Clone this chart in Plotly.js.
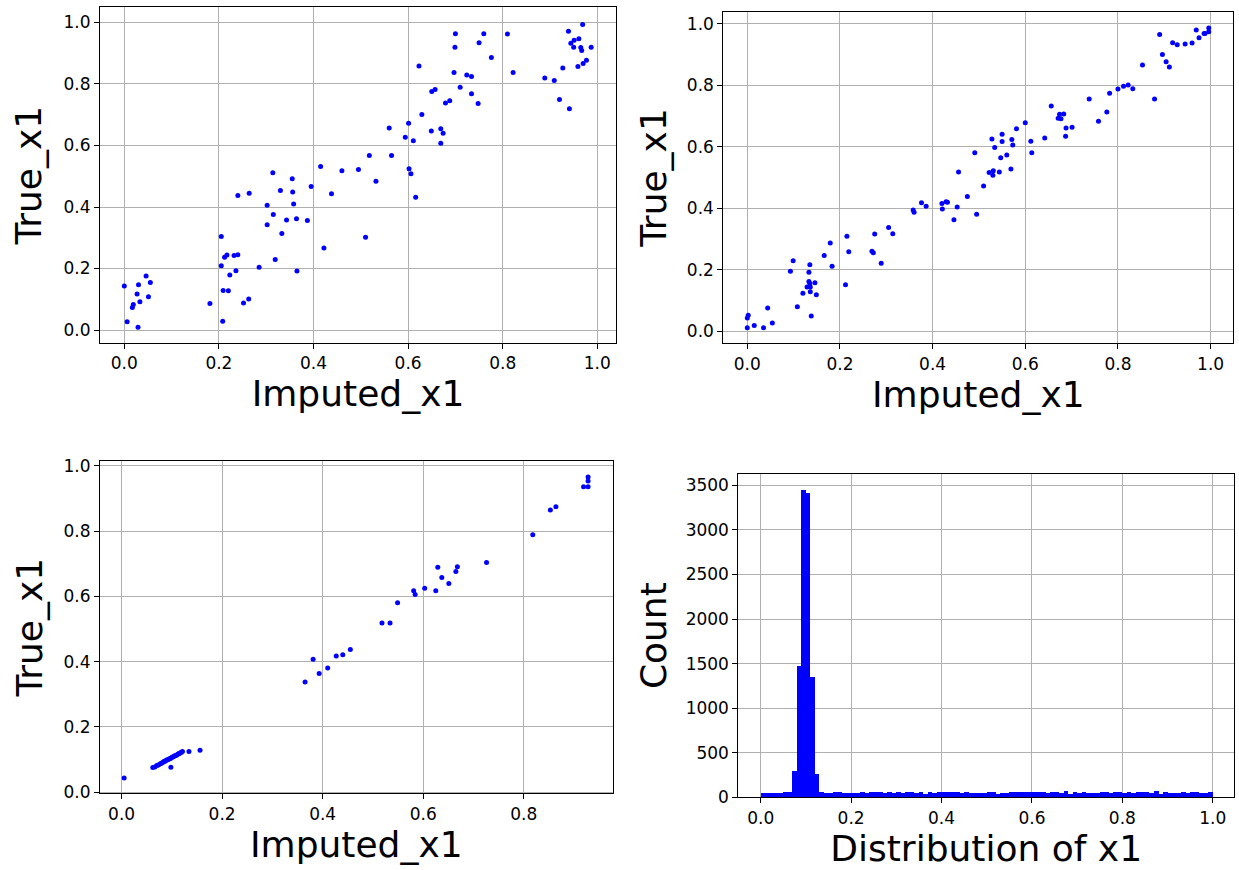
<!DOCTYPE html>
<html><head><meta charset="utf-8">
<script src="https://cdn.plot.ly/plotly-3.0.1.min.js"></script>
<style>html,body{margin:0;padding:0;background:#fff}#chart{width:1239px;height:870px}</style>
</head><body><div id="chart"></div>
<script>
// Panel 1 (top-left): Imputed_x1 vs True_x1
const p1_imputed = [0.000,0.006,0.029,0.017,0.019,0.027,0.030,0.033,0.046,0.055,0.051,0.181,0.205,0.205,0.208,0.209,0.220,0.212,0.217,0.223,0.232,0.240,0.236,0.240,0.252,0.263,0.264,0.285,0.302,0.302,0.314,0.315,0.319,0.330,0.333,0.343,0.355,0.356,0.358,0.364,0.365,0.387,0.395,0.415,0.422,0.438,0.460,0.495,0.510,0.518,0.532,0.560,0.565,0.594,0.601,0.602,0.606,0.611,0.616,0.623,0.629,0.649,0.650,0.657,0.669,0.674,0.669,0.679,0.688,0.697,0.699,0.700,0.710,0.724,0.734,0.734,0.748,0.750,0.760,0.776,0.810,0.822,0.889,0.909,0.920,0.927,0.939,0.941,0.944,0.951,0.950,0.961,0.965,0.967,0.959,0.969,0.970,0.977,0.987];
const p1_true = [0.143,0.027,0.009,0.073,0.083,0.117,0.147,0.092,0.176,0.155,0.108,0.086,0.304,0.209,0.029,0.129,0.128,0.237,0.244,0.179,0.242,0.245,0.193,0.437,0.088,0.101,0.445,0.204,0.406,0.342,0.511,0.376,0.229,0.454,0.314,0.358,0.492,0.449,0.410,0.362,0.192,0.356,0.467,0.532,0.267,0.443,0.518,0.522,0.302,0.567,0.484,0.657,0.567,0.627,0.672,0.524,0.508,0.615,0.432,0.858,0.701,0.647,0.775,0.782,0.654,0.640,0.607,0.738,0.745,0.837,0.919,0.963,0.789,0.829,0.824,0.768,0.736,0.934,0.963,0.886,0.962,0.837,0.819,0.811,0.749,0.852,0.971,0.719,0.932,0.942,0.919,0.947,0.918,0.909,0.857,0.993,0.866,0.877,0.919];

// Panel 2 (top-right)
const p2_imputed = [0.000,0.000,0.002,0.015,0.035,0.044,0.054,0.093,0.099,0.108,0.120,0.129,0.133,0.135,0.133,0.135,0.136,0.136,0.138,0.146,0.149,0.166,0.179,0.183,0.212,0.215,0.219,0.269,0.272,0.275,0.289,0.305,0.314,0.358,0.360,0.376,0.386,0.420,0.421,0.429,0.432,0.446,0.453,0.456,0.475,0.491,0.495,0.510,0.522,0.528,0.530,0.531,0.534,0.544,0.547,0.550,0.550,0.560,0.569,0.571,0.573,0.581,0.600,0.612,0.614,0.642,0.656,0.671,0.674,0.677,0.683,0.687,0.688,0.701,0.738,0.758,0.776,0.782,0.800,0.812,0.822,0.832,0.853,0.879,0.890,0.896,0.904,0.911,0.918,0.928,0.945,0.960,0.969,0.975,0.986,0.988,0.996,0.996];
const p2_true = [0.011,0.042,0.051,0.018,0.011,0.075,0.026,0.195,0.229,0.079,0.123,0.143,0.191,0.216,0.161,0.155,0.143,0.128,0.049,0.157,0.118,0.246,0.287,0.211,0.151,0.309,0.258,0.260,0.255,0.316,0.221,0.337,0.317,0.394,0.387,0.418,0.406,0.415,0.397,0.421,0.419,0.362,0.404,0.518,0.438,0.581,0.380,0.472,0.516,0.625,0.507,0.522,0.598,0.518,0.564,0.641,0.617,0.573,0.528,0.624,0.606,0.659,0.678,0.618,0.581,0.629,0.733,0.693,0.706,0.691,0.707,0.634,0.661,0.664,0.756,0.683,0.713,0.774,0.788,0.797,0.801,0.789,0.866,0.756,0.966,0.901,0.877,0.860,0.939,0.932,0.935,0.938,0.980,0.955,0.969,0.969,0.987,0.975];

// Panel 3 (bottom-left)
const p3_imputed = [0.005,0.062,0.098,0.066,0.070,0.073,0.076,0.079,0.081,0.083,0.085,0.087,0.089,0.091,0.093,0.095,0.097,0.099,0.101,0.103,0.105,0.107,0.109,0.111,0.113,0.115,0.117,0.119,0.121,0.134,0.156,0.365,0.381,0.393,0.410,0.427,0.440,0.455,0.518,0.534,0.549,0.581,0.584,0.603,0.625,0.629,0.637,0.651,0.665,0.668,0.726,0.818,0.853,0.864,0.919,0.928,0.928,0.928];
const p3_true = [0.043,0.075,0.076,0.077,0.081,0.083,0.086,0.088,0.090,0.092,0.094,0.095,0.097,0.099,0.100,0.102,0.103,0.105,0.107,0.108,0.110,0.112,0.113,0.115,0.117,0.118,0.120,0.122,0.124,0.124,0.128,0.337,0.407,0.363,0.380,0.417,0.421,0.437,0.518,0.518,0.580,0.617,0.606,0.625,0.617,0.689,0.658,0.639,0.676,0.691,0.704,0.789,0.865,0.875,0.936,0.936,0.954,0.966];

// Panel 4 (bottom-right): histogram of x1, 100 bins of width 0.01 on [0,1]
const hist_bin_centers = [];
for (let i = 0; i < 100; i++) hist_bin_centers.push(+(0.005 + i * 0.01).toFixed(3));
const hist_counts = [45,44,46,45,47,55,57,295,1475,3453,
  3415,1352,258,63,49,48,63,56,49,50,
  45,46,56,49,63,56,55,49,56,49,
  56,49,56,64,52,56,41,56,52,64,
  56,57,56,55,49,56,52,52,51,52,
  56,64,37,52,53,60,56,56,57,56,
  56,57,56,49,56,56,49,67,41,56,
  49,56,49,48,49,60,56,49,56,56,
  49,60,49,60,56,60,49,71,41,56,
  49,49,48,56,49,56,56,49,49,60];

const xTicks01 = [0, 0.2, 0.4, 0.6, 0.8, 1.0];
const xTicks08 = [0, 0.2, 0.4, 0.6, 0.8];
const yTicksCount = [0, 500, 1000, 1500, 2000, 2500, 3000, 3500];

const FONT = 'DejaVu Sans, sans-serif';
const tickSize = 17, titleSize = 36;

function ax(extra) {
  return Object.assign({
    showline: true, mirror: true, linecolor: '#000', linewidth: 1,
    ticks: 'outside', ticklen: 5, tickcolor: '#000', tickwidth: 1,
    showgrid: true, gridcolor: '#b0b0b0', gridwidth: 1, zeroline: false,
    tickfont: {family: FONT, size: tickSize, color: '#000'},
    automargin: false, fixedrange: true
  }, extra);
}
function ttl(text, so) { return {text: text, font: {family: FONT, size: titleSize, color: '#000'}, standoff: so}; }

const W = 1239, H = 870;
const dx = (a, b) => [a / W, b / W];
const dy = (top, bottom) => [1 - bottom / H, 1 - top / H];

const mk = {color: '#0000ff', size: 5, line: {width: 0}};
const traces = [
  {type: 'scatter', mode: 'markers', x: p1_imputed, y: p1_true, xaxis: 'x', yaxis: 'y', marker: mk},
  {type: 'scatter', mode: 'markers', x: p2_imputed, y: p2_true, xaxis: 'x2', yaxis: 'y2', marker: mk},
  {type: 'scatter', mode: 'markers', x: p3_imputed, y: p3_true, xaxis: 'x3', yaxis: 'y3', marker: mk},
  {type: 'bar', x: hist_bin_centers, y: hist_counts, width: 0.01, xaxis: 'x4', yaxis: 'y4', marker: {color: '#0000ff', line: {width: 0}}}
];

const layout = {
  width: W, height: H, showlegend: false,
  paper_bgcolor: '#fff', plot_bgcolor: '#fff',
  margin: {l: 0, r: 0, t: 0, b: 0},
  bargap: 0,
  xaxis:  ax({domain: dx(100, 616), range: [-0.0514, 1.0395], tickvals: xTicks01, tickformat: '.1f', anchor: 'y', title: ttl('Imputed_x1', 2)}),
  yaxis:  ax({domain: dy(7.3, 343), range: [-0.042, 1.049], tickvals: xTicks01, tickformat: '.1f', anchor: 'x', title: ttl('True_x1', 10)}),
  xaxis2: ax({domain: dx(723.3, 1233.3), range: [-0.0518, 1.049], tickvals: xTicks01, tickformat: '.1f', anchor: 'y2', title: ttl('Imputed_x1', 5)}),
  yaxis2: ax({domain: dy(11.7, 343.3), range: [-0.040, 1.040], tickvals: xTicks01, tickformat: '.1f', anchor: 'x2', title: ttl('True_x1', 9)}),
  xaxis3: ax({domain: dx(100, 612.7), range: [-0.043, 0.977], tickvals: xTicks08, tickformat: '.1f', anchor: 'y3', title: ttl('Imputed_x1', 6)}),
  yaxis3: ax({domain: dy(461, 793.3), range: [-0.004, 1.015], tickvals: xTicks01, tickformat: '.1f', anchor: 'x3', title: ttl('True_x1', 9)}),
  xaxis4: ax({domain: dx(738.3, 1234), range: [-0.0496, 1.047], tickvals: xTicks01, tickformat: '.1f', anchor: 'y4', title: ttl('Distribution of x1', 5)}),
  yaxis4: ax({domain: dy(474, 797.3), range: [0, 3627], tickvals: yTicksCount, anchor: 'x4', title: ttl('Count', 8)})
};

Plotly.newPlot('chart', traces, layout, {displayModeBar: false, staticPlot: true});
</script>
</body></html>
